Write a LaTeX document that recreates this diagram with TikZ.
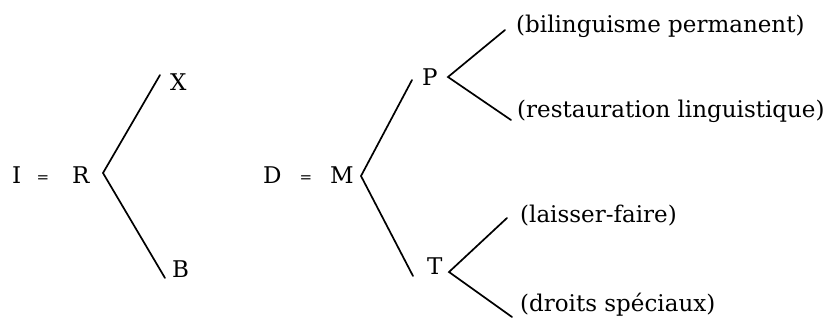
\documentclass[tikz,border=0pt]{standalone}
\usepackage{fontspec}
\setmainfont{DejaVu Serif}
\usetikzlibrary{calc}
\begin{document}
\begin{tikzpicture}[x=1pt,y=-1pt,
  lbl/.style={anchor=base west,inner sep=0pt,font=\fontsize{23}{28}\selectfont},
  eqsign/.style={inner sep=0pt,font=\fontsize{15}{20}\selectfont},
  branch/.style={line width=1.7pt,line cap=round}]
  % canvas
  \fill[white] (0,0) rectangle (831,324);
  \useasboundingbox (0,0) rectangle (831,324);

  % first tree: I = R, branching to X and B
  \node[lbl] (I) at (12,183) {I};
  \node[eqsign] (eqA) at (43,179) {=};
  \node[lbl] (R) at (72,183) {R};
  \node[lbl] (X) at (170,90) {X};
  \node[lbl] (B) at (172,277) {B};

  % second tree: D = M, branching to P and T
  \node[lbl] (D) at (263,183) {D};
  \node[eqsign] (eqB) at (306,179) {=};
  \node[lbl] (M) at (330,183) {M};
  \node[lbl] (P) at (422,85) {P};
  \node[lbl] (T) at (427,274) {T};

  % leaves
  \node[lbl] (bil) at (516,32) {(bilinguisme permanent)};
  \node[lbl] (res) at (517,117) {(restauration linguistique)};
  \node[lbl] (lai) at (520,222) {(laisser-faire)};
  \node[lbl] (dro) at (520,311) {(droits spéciaux)};

  % forks, placed from the base line of each letter
  \draw[branch] ($(X.base west)+(-10,-15)$) -- ($(R.base west)+(31,-10)$) -- ($(B.base west)+(-7,1)$);
  \draw[branch] ($(P.base west)+(-10,-5)$) -- ($(M.base west)+(31,-7)$) -- ($(T.base west)+(-14,2)$);
  \draw[branch] ($(bil.base west)+(-11,-2)$) -- ($(P.base west)+(26,-8)$) -- ($(res.base west)+(-6,3)$);
  \draw[branch] ($(lai.base west)+(-13,-4)$) -- ($(T.base west)+(22,-2)$) -- ($(dro.base west)+(-8,6)$);
\end{tikzpicture}
\end{document}
